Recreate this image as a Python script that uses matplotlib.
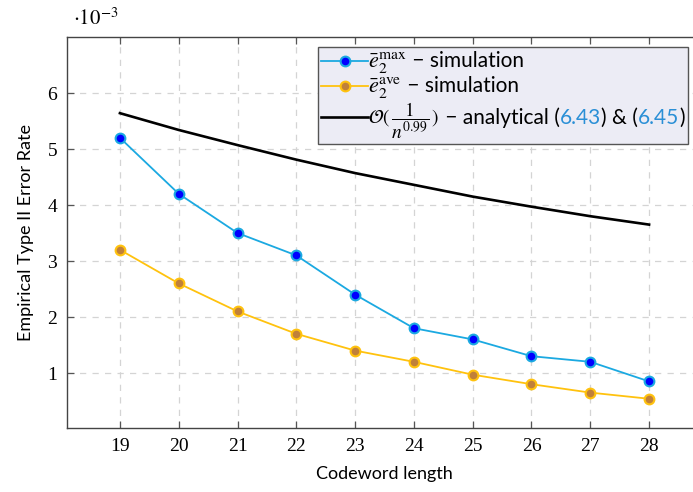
import matplotlib
matplotlib.use("Agg")
import matplotlib.pyplot as plt
from matplotlib.lines import Line2D
from matplotlib.offsetbox import AnchoredOffsetbox, HPacker, VPacker, TextArea, DrawingArea

# ─────────────────────────────────────────────
# Dados (em unidades de 1e-3)
# ─────────────────────────────────────────────
codeword_length = [19, 20, 21, 22, 23, 24, 25, 26, 27, 28]
err_max = [5.2, 4.2, 3.5, 3.1, 2.4, 1.8, 1.6, 1.3, 1.2, 0.85]
err_ave = [3.2, 2.6, 2.1, 1.7, 1.4, 1.2, 0.97, 0.8, 0.65, 0.54]
analytical = [5.64, 5.34, 5.07, 4.81, 4.57, 4.36, 4.15, 3.97, 3.80, 3.65]
y_ticks = [1, 2, 3, 4, 5, 6]

CYAN = "#1ba9e1"
BLUE = "#0000ff"
GOLD = "#ffc20e"
BROWN = "#c0803a"
REF_BLUE = "#2a8fd6"

plt.rcParams["mathtext.fontset"] = "stix"
SANS = ["Lato", "DejaVu Sans"]
SERIF = ["Liberation Serif", "DejaVu Serif"]

fig = plt.figure(figsize=(6.93, 4.92), dpi=100)
ax = fig.add_axes([67 / 693, 1 - 428 / 492, 635 / 693, 391 / 492])

ax.plot(codeword_length, err_max, color=CYAN, lw=1.3, marker="o", ms=7,
        mfc=BLUE, mec=CYAN, mew=1.5, zorder=3)
ax.plot(codeword_length, err_ave, color=GOLD, lw=1.3, marker="o", ms=7,
        mfc=BROWN, mec=GOLD, mew=1.5, zorder=3)
ax.plot(codeword_length, analytical, color="black", lw=1.9, zorder=3)

ax.set_xlim(18.1, 28.9)
ax.set_ylim(0.018, 7.0)
ax.set_xticks(codeword_length)
ax.set_yticks(y_ticks)
ax.tick_params(direction="in", length=5, width=0.9, color="#555555",
               top=True, right=True, labelsize=14, pad=7)
for lab in ax.get_xticklabels() + ax.get_yticklabels():
    lab.set_family(SERIF)
for sp in ax.spines.values():
    sp.set_color("#444444")
    sp.set_linewidth(1.0)
ax.grid(True, color="#d4d4d4", lw=0.9, ls=(0, (5, 5)))
ax.set_axisbelow(True)

ax.set_xlabel("Codeword length", family=SANS, fontsize=13, labelpad=8)
ax.set_ylabel("Empirical Type II Error Rate", family=SANS, fontsize=13, labelpad=10)
fig.text(0.105, 0.963, r"$\cdot 10^{-3}$", fontsize=15, ha="left", va="center")


# ─────────────────────────────────────────────
# Legenda manual (para colorir as referências)
# ─────────────────────────────────────────────
def handle(color, mfc=None, mec=None, lw=1.3):
    da = DrawingArea(34, 10, 0, -1)
    da.add_artist(Line2D([0, 34], [5, 5], color=color, lw=lw))
    if mfc is not None:
        da.add_artist(Line2D([17], [5], marker="o", ms=7, mfc=mfc, mec=mec, mew=1.5))
    return da


def txt(s, color="black", size=15):
    return TextArea(s, textprops=dict(fontsize=size, family=SANS, color=color))


row1 = HPacker(children=[handle(CYAN, BLUE, CYAN),
                         txt(r"$\bar{e}_2^{\max}$", size=16), txt(" − simulation")],
               sep=0, align="baseline")
row2 = HPacker(children=[handle(GOLD, BROWN, GOLD),
                         txt(r"$\bar{e}_2^{\mathrm{ave}}$", size=16), txt(" − simulation")],
               sep=0, align="baseline")
row3 = HPacker(children=[handle("black", lw=1.9),
                         txt(r"$\mathcal{O}(\,\dfrac{1}{n^{0.99}}\,)$", size=14),
                         txt(" − analytical ("),
                         txt("6.43", REF_BLUE), txt(") & ("),
                         txt("6.45", REF_BLUE), txt(")")],
               sep=0, align="baseline")
rows = VPacker(children=[row1, row2, row3], sep=0, align="left")

legend_box = AnchoredOffsetbox(loc="upper right", child=rows, pad=0.25, borderpad=0,
                               frameon=True, bbox_to_anchor=(688 / 693, 1 - 47 / 492),
                               bbox_transform=fig.transFigure)
legend_box.patch.set_facecolor("#ececf5")
legend_box.patch.set_edgecolor("#555555")
legend_box.patch.set_linewidth(1.0)
legend_box.patch.set_boxstyle("square", pad=0)
legend_box.set_zorder(5)
ax.add_artist(legend_box)

plt.savefig("out.png", dpi=100)
plt.close()
